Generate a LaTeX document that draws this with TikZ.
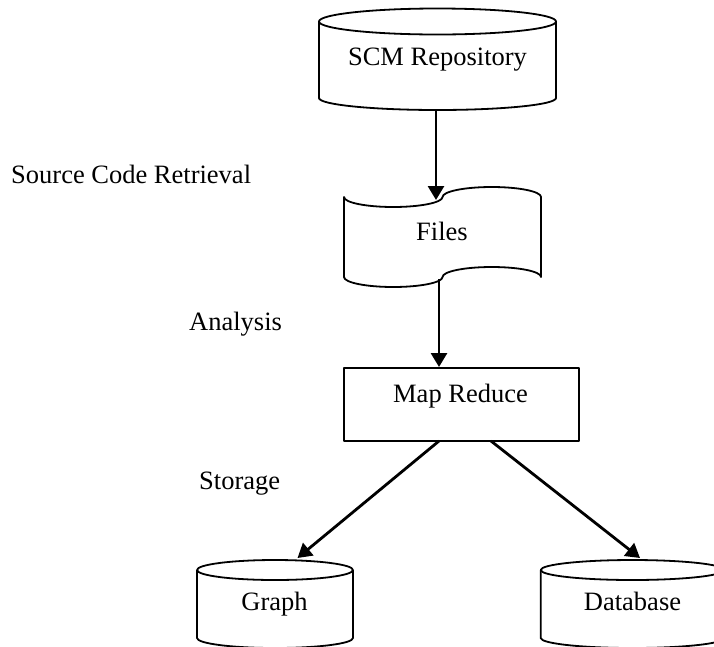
\documentclass[tikz,border=0pt]{standalone}
\usepackage{fontspec}
\setmainfont{Liberation Serif}
\usetikzlibrary{arrows.meta}
\begin{document}
\begin{tikzpicture}[x=1pt,y=-1pt,
  lab/.style={inner sep=0pt, font=\fontsize{26.5}{30}\selectfont},
  shp/.style={line width=1.8pt, line join=round},
  conn/.style={line width=2.8pt, -{Triangle[width=16pt,length=14pt]}}]
\useasboundingbox (0,0) rectangle (714,646);

% SCM repository cylinder
\draw[shp] (437.5,21.5) ellipse [x radius=118.5pt, y radius=13pt];
\draw[shp] (319,21.5) -- (319,98) arc[start angle=180,end angle=360,x radius=118.5pt,y radius=12pt] -- (556,21.5);
\node[lab, anchor=base] (scm) at (437.5,65) {SCM Repository};

% Files (punched tape)
\draw[shp] (344,197)
  arc[start angle=180,end angle=360,x radius=49.25pt,y radius=10pt]
  arc[start angle=180,end angle=0,x radius=49.25pt,y radius=10pt]
  -- (541,277)
  arc[start angle=0,end angle=180,x radius=49.25pt,y radius=10pt]
  arc[start angle=0,end angle=-180,x radius=49.25pt,y radius=10pt]
  -- cycle;
\node[lab, anchor=base] (files) at (442,240) {Files};

% Map Reduce box
\node[shp, draw, minimum width=235pt, minimum height=73pt, inner sep=0pt, anchor=north west] (mr) at (343,367) {};
\node[lab, anchor=base] (mrt) at (460.5,402) {Map Reduce};

% Graph cylinder
\draw[shp] (275,570) ellipse [x radius=78pt, y radius=10pt];
\draw[shp] (197,570) -- (197,638) arc[start angle=180,end angle=360,x radius=78pt,y radius=10pt] -- (353,570);
\node[lab, anchor=base] (graph) at (274.5,610) {Graph};

% Database cylinder
\draw[shp] (632.5,570) ellipse [x radius=91.8pt, y radius=10pt];
\draw[shp] (540.7,570) -- (540.7,638) arc[start angle=180,end angle=360,x radius=91.8pt,y radius=10pt] -- (724.3,570);
\node[lab, anchor=base] (db) at (632.5,610) {Database};

% side labels
\node[lab, anchor=base west] (l1) at (11,183) {Source Code Retrieval};
\node[lab, anchor=base west] (l2) at (189,330) {Analysis};
\node[lab, anchor=base west] (l3) at (199,489) {Storage};

% connectors
\coordinate (scmB) at (436,111);
\coordinate (filesT) at (436,200);
\coordinate (filesB) at (439,279);
\coordinate (mrL) at (439,441);
\coordinate (mrR) at (491,441);
\coordinate (gT) at (297.5,558);
\coordinate (dT) at (640,558);
\draw[conn] (scmB) -- (filesT);
\draw[conn] (filesB) -- (filesB |- mr.north);
\draw[conn] (mrL) -- (gT);
\draw[conn] (mrR) -- (dT);
\end{tikzpicture}
\end{document}
